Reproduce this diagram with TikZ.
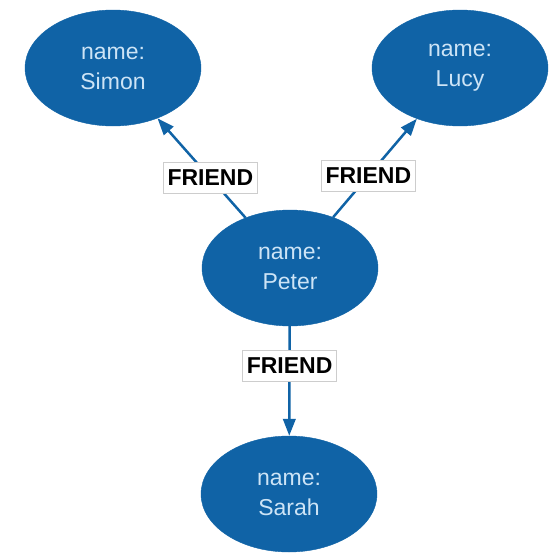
\documentclass[tikz,border=0pt]{standalone}
\usepackage{fontspec}
\setmainfont{Liberation Sans}
\usetikzlibrary{shapes.geometric,arrows.meta}
\definecolor{nodeblue}{RGB}{16,99,166}
\definecolor{nodetext}{RGB}{205,228,246}
\definecolor{lblborder}{RGB}{205,205,205}
\tikzset{
  person/.style={ellipse, fill=nodeblue, draw=nodeblue, inner sep=0pt,
    minimum width=176pt, minimum height=116pt, text=nodetext, align=center,
    font=\fontsize{23}{30}\selectfont},
  rel/.style={draw=nodeblue, line width=2.5pt,
    -{Triangle[length=17pt,width=12.5pt]}},
  rellabel/.style={fill=white, draw=lblborder, line width=0.7pt, text=black,
    font=\fontsize{23}{26}\selectfont\bfseries, inner xsep=2pt,
    minimum height=31pt, minimum width=94pt}
}
\begin{document}
\begin{tikzpicture}[x=1pt,y=-1pt]
  \useasboundingbox (0,0) rectangle (554,554);
  \node[person] (simon) at (113,68)  {name:\\Simon};
  \node[person] (lucy)  at (460,68)  {name:\\Lucy};
  \node[person] (peter) at (290,268) {name:\\Peter};
  \node[person] (sarah) at (289,494) {name:\\Sarah};
  \draw[rel] (peter) -- node[rellabel, pos=0.4] (l1) {FRIEND} (simon);
  \draw[rel] (peter) -- node[rellabel, pos=0.42] (l2) {FRIEND} (lucy);
  \draw[rel] (peter) -- node[rellabel, pos=0.36] (l3) {FRIEND} (sarah);
\end{tikzpicture}
\end{document}
